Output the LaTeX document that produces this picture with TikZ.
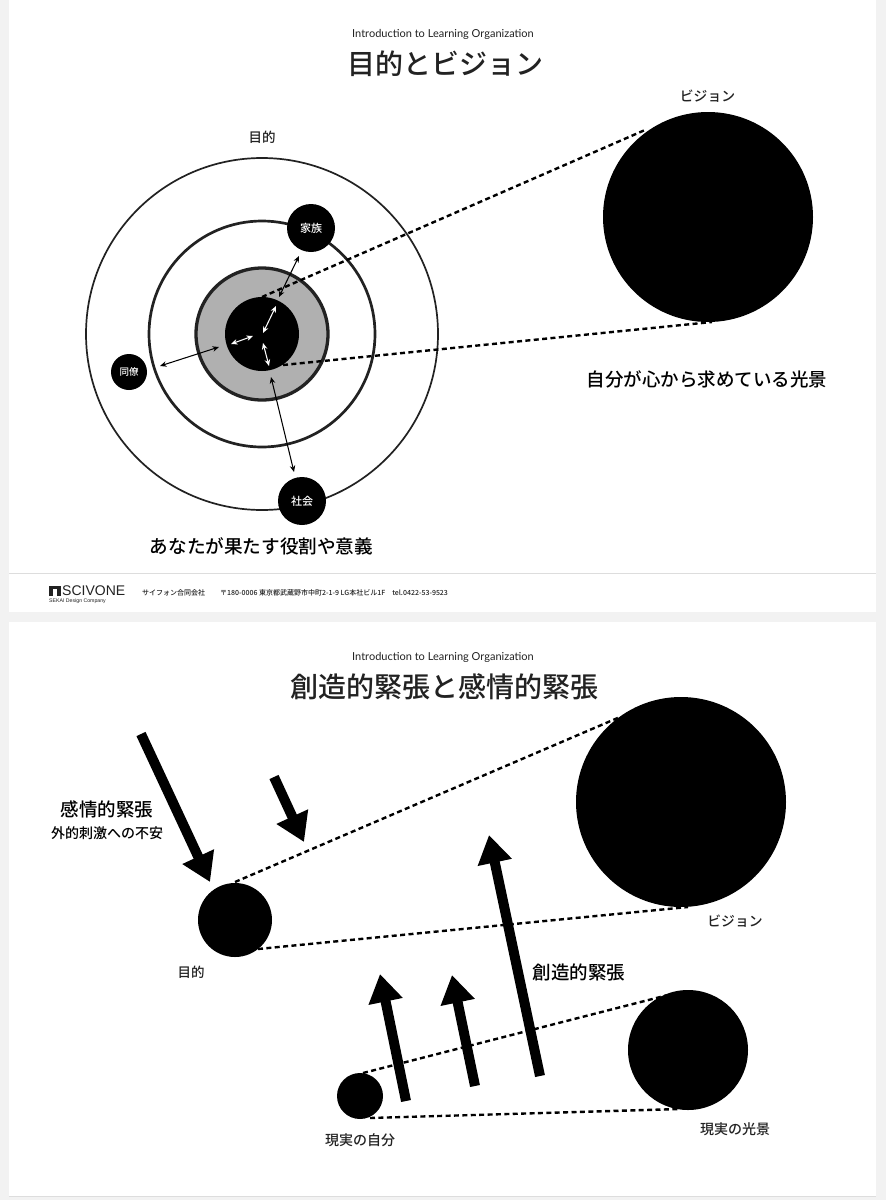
\documentclass[tikz,border=0pt]{standalone}
\usepackage{fontspec}
\setmainfont{Noto Sans CJK JP Medium}
\newfontfamily\latin{Lato}
\newfontfamily\heros{Liberation Sans}
\usetikzlibrary{arrows.meta}
\definecolor{pagebg}{HTML}{F2F2F2}
\definecolor{ink}{HTML}{222222}
\definecolor{ringgray}{HTML}{B0B0B0}
\definecolor{rule}{HTML}{DDDDDD}
\newcommand{\fs}[1]{\fontsize{#1}{#1}\selectfont}
\tikzset{
  x=1pt,y=-1pt,
  disc/.style={circle,fill=black,draw=none,inner sep=0pt,minimum size=#1},
  ring/.style={circle,draw=ink,fill=none,inner sep=0pt,minimum size=#1},
  txt/.style={text=ink,inner sep=0pt,font=\fs{#1}},
  intxt/.style={text=white,inner sep=0pt,font=\fs{11}},
  dashline/.style={draw=black,line width=2.4pt,dash pattern=on 5pt off 3.4pt},
  twoway/.style={draw=black,line width=1.05pt,{Stealth[length=6.5pt,width=5.5pt]}-{Stealth[length=6.5pt,width=5.5pt]}},
  twowayw/.style={draw=white,line width=1.05pt,{Stealth[length=6.5pt,width=5.5pt]}-{Stealth[length=6.5pt,width=5.5pt]}},
  bigarrow/.style={draw=black,line width=10pt,-{Triangle[length=28pt,width=33pt]}},
}
\begin{document}
\begin{tikzpicture}
\useasboundingbox (0,0) rectangle (886,1200);
\fill[pagebg] (0,0) rectangle (886,1200);
% slides
\fill[white] (9,0) rectangle (876,612);
\fill[white] (9,622) rectangle (876,1196);
\draw[rule,line width=1pt] (9,573.5) -- (876,573.5);
\draw[rule,line width=1pt] (9,1196) -- (876,1196);
% slide 1 titles
\node[txt=11] (h1) at (443,34) {\latin Introduction to Learning Organization};
\node[txt=28] (t1) at (445,64) {目的とビジョン};
\node[txt=13.5] (l1) at (262,137) {目的};
\node[txt=13.8] (l2) at (707.5,96) {ビジョン};
\node[txt=18.5,text=black] (l3) at (707,379) {自分が心から求めている光景};
\node[txt=18.6,text=black] (l4) at (261.5,546) {あなたが果たす役割や意義};
% rings
\node[ring=352pt,line width=1.7pt] (outer) at (262,334) {};
\node[ring=226pt,line width=2.7pt] (middle) at (262,334) {};
\node[circle,draw=ink,fill=ringgray,line width=3.3pt,inner sep=0pt,minimum size=132pt] (gray) at (262,334) {};
\node[disc=74pt] (core) at (262,334) {};
\node[disc=48pt,intxt] (fam) at (311,228) {家族};
\node[disc=36pt,font=\fs{9.5},text=white] (col) at (129,372) {同僚};
\node[disc=48pt,intxt] (soc) at (302,501) {社会};
\node[disc=210pt] (vis) at (708,217) {};
% dashed
\coordinate (d1a) at (262,297);
\coordinate (d1b) at (645,130);
\coordinate (d2a) at (283,365);
\coordinate (d2b) at (712,322);
\draw[dashline] (d1a) -- (d1b);
\draw[dashline] (d2a) -- (d2b);
% two way arrows
\coordinate (a1) at (299,256); \coordinate (a2) at (279,297);
\coordinate (a3) at (160,366); \coordinate (a4) at (219,347);
\coordinate (a5) at (271,377); \coordinate (a6) at (294,472);
\draw[twoway] (a1) -- (a2);
\draw[twoway] (a3) -- (a4);
\draw[twoway] (a5) -- (a6);
\coordinate (w1) at (276,306); \coordinate (w2) at (263,333);
\coordinate (w3) at (253,336); \coordinate (w4) at (231,344);
\coordinate (w5) at (263,343); \coordinate (w6) at (269,366);
\draw[twowayw] (w1) -- (w2);
\draw[twowayw] (w3) -- (w4);
\draw[twowayw] (w5) -- (w6);
% footer
\fill[ink] (49,585.5) rectangle (61,596);
\fill[white] (53,589) rectangle (57,596);
\node[anchor=west,inner sep=0pt,text=ink,font=\fs{14}] (logo) at (62,591) {\heros SCIVONE};
\node[anchor=west,inner sep=0pt,text=ink,font=\fs{5.2}] (logos) at (49,601) {\heros SEKAI Design Company};
\node[anchor=west,inner sep=0pt,text=ink,font=\fs{7}] (co) at (142,593) {サイフォン合同会社};
\node[anchor=west,inner sep=0pt,text=ink,font=\fs{7}] (addr) at (220,593) {〒180-0006 東京都武蔵野市中町2-1-9 LG本社ビル1F\quad tel.0422-53-9523};
% slide 2
\node[txt=11] (h2) at (443,657) {\latin Introduction to Learning Organization};
\node[txt=28] (t2) at (444,687) {創造的緊張と感情的緊張};
\node[disc=74pt] (pur) at (235,920) {};
\node[disc=210pt] (vis2) at (681,802) {};
\node[disc=46pt] (me) at (360,1096) {};
\node[disc=120pt] (real) at (688,1050) {};
\coordinate (e1a) at (235,882); \coordinate (e1b) at (620,717);
\coordinate (e2a) at (258,949); \coordinate (e2b) at (688,907);
\coordinate (e3a) at (363,1073); \coordinate (e3b) at (668,995);
\coordinate (e4a) at (370,1118); \coordinate (e4b) at (680,1109);
\draw[dashline] (e1a) -- (e1b);
\draw[dashline] (e2a) -- (e2b);
\draw[dashline] (e3a) -- (e3b);
\draw[dashline] (e4a) -- (e4b);
\coordinate (b1a) at (141,734); \coordinate (b1b) at (210,882);
\coordinate (b2a) at (274,777); \coordinate (b2b) at (304,842);
\coordinate (b3a) at (406,1101); \coordinate (b3b) at (380,974);
\coordinate (b4a) at (475,1086); \coordinate (b4b) at (452,975);
\coordinate (b5a) at (540,1076); \coordinate (b5b) at (489,835);
\draw[bigarrow] (b1a) -- (b1b);
\draw[bigarrow] (b2a) -- (b2b);
\draw[bigarrow] (b3a) -- (b3b);
\draw[bigarrow] (b4a) -- (b4b);
\draw[bigarrow] (b5a) -- (b5b);
\node[txt=18.5,text=black] (k1) at (107,809) {感情的緊張};
\node[txt=14,text=black] (k2) at (107,833) {外的刺激への不安};
\node[txt=13.5] (k3) at (191,972) {目的};
\node[txt=13.8] (k4) at (735,921) {ビジョン};
\node[txt=18.5,text=black] (k5) at (579,972) {創造的緊張};
\node[txt=14] (k6) at (360,1140) {現実の自分};
\node[txt=14] (k7) at (735,1129) {現実の光景};
\end{tikzpicture}
\end{document}
